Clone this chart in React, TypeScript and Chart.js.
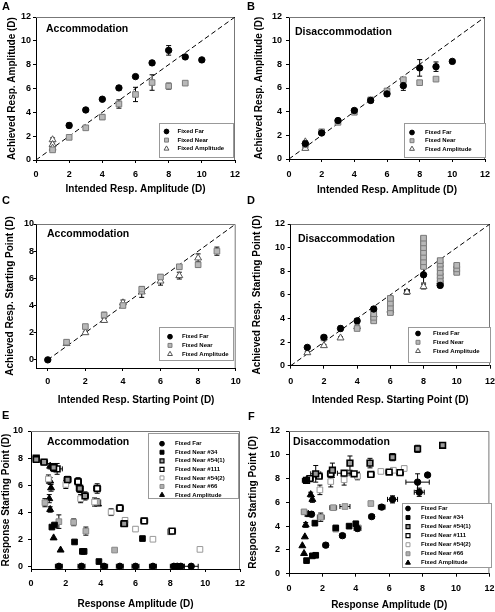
import React, { useEffect, useRef } from 'react';
import { Chart, registerables } from 'chart.js';
Chart.register(...registerables);

const FONT = "'Liberation Sans', Arial, Helvetica, sans-serif";
const W = 495;
const H = 612;

// ---------- data: [x, y, xErr, yErr] ----------
const A_FAR = [[2, 2.9, 0, 0.2], [3, 4.2, 0, 0.15], [4, 5.1, 0, 0.1], [5, 6.05, 0, 0.15], [6, 7.0, 0, 0.15], [7, 8.15, 0, 0.15], [8, 9.2, 0, 0.4], [9, 8.65, 0, 0.1], [10, 8.4, 0, 0]];
const A_NEAR = [[1, 0.85, 0, 0.15], [2, 1.9, 0, 0], [3, 2.7, 0, 0.15], [4, 3.6, 0, 0.2], [5, 4.7, 0, 0.35], [6, 5.5, 0, 0.6], [7, 6.5, 0, 0.65], [8, 6.2, 0, 0.25], [9, 6.45, 0, 0]];
const A_AMP = [[1, 1.7, 0, 0.15], [1, 1.3, 0, 0.1], [1, 1.0, 0, 0.1]];

const B_FAR = [[1, 1.3, 0, 0.1], [2, 2.2, 0, 0.1], [3, 3.25, 0, 0.1], [4, 4.1, 0, 0.1], [5, 4.95, 0, 0.1], [6, 5.5, 0, 0.2], [7, 6.2, 0, 0.4], [8, 7.7, 0, 0.7], [9, 7.8, 0, 0.4], [10, 8.25, 0, 0]];
const B_NEAR = [[1, 1.2, 0, 0.2], [2, 2.3, 0, 0.1], [3, 3.1, 0, 0.1], [4, 3.95, 0, 0.1], [5, 5.0, 0, 0.1], [6, 5.75, 0, 0.15], [7, 6.7, 0, 0.1], [8, 6.45, 0, 0], [9, 6.75, 0, 0]];
const B_AMP = [[1, 1.45, 0, 0.1], [1, 0.9, 0, 0.1]];

const C_FAR = [[0, 0, 0, 0]];
const C_NEAR = [[1, 1.3, 0, 0.15], [2, 2.45, 0, 0.15], [3, 3.3, 0, 0.2], [4, 4.0, 0, 0.15], [5, 5.2, 0, 0.2], [6, 6.1, 0, 0.15], [7, 6.85, 0, 0.15], [8, 7.0, 0, 0.2], [9, 8.0, 0, 0.3]];
const C_AMP = [[1, 1.2, 0, 0.1], [2, 2.0, 0, 0.1], [3, 2.9, 0, 0.15], [4, 4.2, 0, 0.2], [5, 5.0, 0, 0.4], [6, 5.8, 0, 0.3], [7, 6.2, 0, 0.25], [8, 7.5, 0, 0.3]];

const D_FAR = [[1, 1.55, 0, 0.1], [2, 2.4, 0, 0.15], [3, 3.15, 0, 0.2], [4, 3.8, 0, 0.2], [5, 4.8, 0, 0.2], [8, 7.7, 0, 0.7], [9, 6.8, 0, 0.15]];
const D_NEAR = [[2, 2.35, 0, 0.1], [4, 3.15, 0, 0.15], [5, 3.8, 0.15, 0.15], [5, 4.1, 0.15, 0.15], [5, 4.4, 0.15, 0.15], [6, 4.5, 0.15, 0.15], [6, 4.9, 0.15, 0.15], [6, 5.3, 0.15, 0.15], [6, 5.7, 0.15, 0.15], [8, 8.4, 0.15, 0.15], [8, 8.8, 0.15, 0.15], [8, 9.2, 0.15, 0.15], [8, 9.6, 0.15, 0.15], [8, 10.0, 0.15, 0.15], [8, 10.4, 0.15, 0.15], [8, 10.8, 0.15, 0.15], [9, 7.0, 0.15, 0.15], [9, 7.3, 0.15, 0.15], [9, 7.6, 0.15, 0.15], [9, 7.9, 0.15, 0.15], [9, 8.3, 0.15, 0.15], [9, 8.6, 0.15, 0.15], [9, 8.9, 0.15, 0.15], [10, 7.9, 0.15, 0.15], [10, 8.2, 0.15, 0.15], [10, 8.5, 0.15, 0.15]];
const D_AMP = [[1, 1.1, 0, 0.1], [2, 1.7, 0, 0.1], [3, 2.35, 0, 0.1], [4, 3.3, 0, 0.15], [5, 4.3, 0, 0.15], [6, 4.7, 0, 0.2], [7, 6.25, 0.15, 0.2], [8, 6.7, 0, 0.2], [9, 7.1, 0, 0.2]];

const E_FAR = [[1.6, 0, 0.2, 0], [2.9, 0, 0.2, 0], [4.2, 0, 0.2, 0], [5.1, 0, 0.2, 0], [6.0, 0, 0.2, 0], [7.0, 0, 0.2, 0], [8.2, 0, 0.2, 0], [8.4, 0, 0.2, 0], [8.6, 0, 0.2, 0], [9.2, 0, 0.4, 0]];
const E_N34 = [[1.2, 2.9, 0, 0], [1.35, 3.05, 0, 0], [2.5, 1.8, 0, 0], [2.95, 1.1, 0, 0], [3.05, 1.1, 0, 0], [3.9, 0.35, 0, 0], [6.4, 2.05, 0, 0]];
const E_N54A = [[0.3, 7.9, 0, 0.15], [0.75, 7.7, 0.2, 0.2], [1.3, 7.3, 0.2, 0.3], [2.1, 6.4, 0.2, 0.25], [2.8, 5.75, 0.2, 0.3], [3.1, 5.2, 0.2, 0.3], [5.35, 3.15, 0.2, 0.15]];
const E_N111 = [[0.3, 8.0, 0, 0.1], [1.5, 7.2, 0.3, 0.4], [2.7, 6.25, 0.2, 0.3], [3.8, 5.75, 0.2, 0.35], [5.1, 4.3, 0.2, 0.25], [6.5, 3.35, 0.2, 0.2], [8.1, 2.6, 0.2, 0.1]];
const E_N54B = [[1.0, 6.45, 0, 0.3], [2.0, 6.05, 0, 0.3], [2.85, 5.0, 0, 0.3], [3.65, 4.75, 0, 0.3], [4.6, 4.0, 0, 0.25], [5.4, 3.4, 0, 0.2], [6.0, 2.75, 0, 0.15], [7.0, 2.0, 0, 0], [9.7, 1.25, 0, 0]];
const E_N66 = [[0.8, 4.7, 0, 0.3], [1.6, 3.3, 0, 0.5], [2.45, 3.25, 0, 0.25], [3.15, 2.6, 0, 0.3], [3.8, 4.75, 0.2, 0.25], [4.8, 1.2, 0, 0], [8.0, 2.55, 0, 0.1]];
const E_AMP = [[1.1, 7.4, 0, 0.2], [1.1, 6.3, 0, 0.25], [1.15, 5.8, 0, 0.25], [1.05, 5.0, 0, 0.3], [1.1, 4.2, 0, 0.2], [1.3, 2.1, 0, 0], [1.7, 1.2, 0, 0], [3.85, 4.6, 0, 0], [5.35, 3.1, 0, 0]];

const F_FAR = [[1.0, 7.85, 0.2, 0.15], [1.35, 5.0, 0, 0.2], [2.2, 2.4, 0.15, 0], [3.2, 3.2, 0.15, 0.15], [4.1, 3.8, 0.2, 0.2], [4.95, 4.8, 0.15, 0.15], [5.55, 5.6, 0.2, 0.2], [6.2, 6.25, 0.3, 0.3], [7.7, 7.7, 0.7, 0.7], [7.8, 6.85, 0.3, 0.35], [8.3, 8.3, 0, 0]];
const F_N34 = [[1.05, 1.1, 0, 0], [1.4, 1.5, 0, 0], [1.6, 1.55, 0, 0], [1.55, 4.25, 0, 0], [2.8, 3.85, 0, 0.15], [3.6, 4.0, 0, 0.15], [4.0, 4.2, 0, 0.1]];
const F_N54A = [[1.05, 7.85, 0.15, 0.2], [1.6, 8.4, 0.3, 0.7], [2.6, 8.7, 0, 0.6], [3.65, 9.3, 0, 0.6], [4.85, 9.3, 0, 0.4], [6.2, 9.8, 0, 0.3], [7.7, 10.5, 0, 0.3], [9.2, 10.8, 0, 0]];
const F_N111 = [[1.25, 8.0, 0.2, 0.2], [1.8, 8.2, 0.2, 0.2], [2.5, 8.4, 0.2, 0.3], [3.3, 8.45, 0.4, 0.2], [3.9, 8.4, 0.3, 0.2], [4.9, 8.35, 0.2, 0.2], [6.0, 8.55, 0.2, 0.2], [6.65, 8.5, 0.2, 0.2]];
const F_N54B = [[1.85, 7.05, 0, 0.4], [2.5, 7.75, 0, 0.45], [3.3, 7.9, 0, 0.45], [4.1, 8.2, 0, 0.3], [5.5, 8.6, 0, 0], [6.25, 8.7, 0, 0], [6.9, 8.85, 0, 0.2]];
const F_N66 = [[0.9, 5.2, 0.15, 0.2], [1.9, 4.75, 0.2, 0.35], [2.65, 5.55, 0.2, 0], [3.35, 5.65, 0.3, 0], [4.15, 3.85, 0, 0.2], [2.8, 3.75, 0, 0], [4.9, 5.9, 0, 0]];
const F_AMP = [[0.8, 2.35, 0, 0], [0.9, 1.7, 0, 0], [0.95, 3.1, 0, 0], [1.0, 4.1, 0, 0.2], [1.3, 6.65, 0, 0.2], [1.4, 6.25, 0, 0.25], [1.15, 5.0, 0, 0.2]];

const TICKS_12 = [0, 2, 4, 6, 8, 10, 12];
const TICKS_10 = [0, 2, 4, 6, 8, 10];
const DIAG_12 = [0, 12];
const DIAG_10 = [0, 10];

const LABELS3 = ['Fixed Far', 'Fixed Near', 'Fixed Amplitude'];
const LABELS7 = ['Fixed Far', 'Fixed Near #34', 'Fixed Near #54(1)', 'Fixed Near #111', 'Fixed Near #54(2)', 'Fixed Near #66', 'Fixed Amplitude'];

// ---------- styles ----------
type Sty = { ps: string; r: number; bg: string; bc: string; bw: number };
const STY: Record<string, Sty> = {
  far: { ps: 'circle', r: 3.2, bg: '#000', bc: '#000', bw: 1 },
  near: { ps: 'rect', r: 4.0, bg: '#b8b8b8', bc: '#7c7c7c', bw: 1 },
  amp: { ps: 'triangle', r: 4.0, bg: '#fff', bc: '#555', bw: 1 },
  n34: { ps: 'rect', r: 4.0, bg: '#000', bc: '#000', bw: 1 },
  n54a: { ps: 'rect', r: 4.0, bg: '#9a9a9a', bc: '#000', bw: 1.6 },
  n111: { ps: 'rect', r: 4.0, bg: '#fff', bc: '#000', bw: 1.6 },
  n54b: { ps: 'rect', r: 4.0, bg: '#fff', bc: '#999', bw: 1 },
  n66: { ps: 'rect', r: 4.0, bg: '#b0b0b0', bc: '#888', bw: 1 },
  ampB: { ps: 'triangle', r: 4.0, bg: '#000', bc: '#000', bw: 1 },
};

const PANELS: any[] = [
  {
    letter: 'A', lp: [2, 7], inner: 'Accommodation', ip: [46, 29],
    xTitle: 'Intended Resp. Amplitude (D)', yTitle: 'Achieved Resp. Amplitude (D)',
    L: 36, R: 235, T: 17, B: 160, xr: [0, 12], yr: [0, 12], xt: TICKS_12, yt: TICKS_12,
    yTickRight: 31, xTickY: 175, yTitleX: 12, xTitleY: 189, diag: DIAG_12,
    series: [['far', A_FAR], ['near', A_NEAR], ['amp', A_AMP]], labels: LABELS3,
    legend: { x: 159, y: 123, w: 74, h: 34, top: 131.5, step: 8.6, mx: 166.5, tx: 177.5 },
  },
  {
    letter: 'B', lp: [247, 7], inner: 'Disaccommodation', ip: [295, 32],
    xTitle: 'Intended Resp. Amplitude (D)', yTitle: 'Achieved Resp. Amplitude (D)',
    L: 289, R: 485, T: 17, B: 159, xr: [0, 12], yr: [0, 12], xt: TICKS_12, yt: TICKS_12,
    yTickRight: 282, xTickY: 175, yTitleX: 259, xTitleY: 190, diag: DIAG_12,
    series: [['far', B_FAR], ['near', B_NEAR], ['amp', B_AMP]], labels: LABELS3,
    legend: { x: 404, y: 123, w: 81, h: 34, top: 132.5, step: 8.2, mx: 412, tx: 425 },
  },
  {
    letter: 'C', lp: [2, 201], inner: 'Accommodation', ip: [47, 234],
    xTitle: 'Intended Resp. Starting Point (D)', yTitle: 'Achieved Resp. Starting Point (D)',
    L: 36.5, R: 235.7, T: 224, B: 368, xr: [-0.6, 10], yr: [-0.6, 10], xt: TICKS_10, yt: TICKS_10,
    yTickRight: 34, xTickY: 382, yTitleX: 10, xTitleY: 400, diag: DIAG_10,
    series: [['far', C_FAR], ['near', C_NEAR], ['amp', C_AMP]], labels: LABELS3,
    legend: { x: 159, y: 327, w: 74, h: 33, top: 336.7, step: 8.7, mx: 170, tx: 182 },
  },
  {
    letter: 'D', lp: [247, 201], inner: 'Disaccommodation', ip: [298, 239],
    xTitle: 'Intended Resp. Starting Point (D)', yTitle: 'Achieved Resp. Starting Point (D)',
    L: 290.7, R: 490, T: 224, B: 365.7, xr: [0, 12], yr: [0, 12], xt: TICKS_12, yt: TICKS_12,
    yTickRight: 285, xTickY: 382, yTitleX: 257, xTitleY: 400, diag: DIAG_12,
    series: [['far', D_FAR], ['near', D_NEAR], ['amp', D_AMP]], labels: LABELS3,
    legend: { x: 408, y: 327, w: 82, h: 35, top: 333.5, step: 8.8, mx: 418, tx: 433 },
  },
  {
    letter: 'E', lp: [2, 416], inner: 'Accommodation', ip: [47, 442],
    xTitle: 'Response Amplitude (D)', yTitle: 'Response Starting Point (D)',
    L: 31, R: 240, T: 431, B: 569, xr: [0, 12], yr: [-0.2, 10], xt: TICKS_12, yt: TICKS_10,
    yTickRight: 23, xTickY: 584, yTitleX: 6, xTitleY: 604, diag: null,
    series: [['far', E_FAR], ['n34', E_N34], ['n54a', E_N54A], ['n111', E_N111], ['n54b', E_N54B], ['n66', E_N66], ['ampB', E_AMP]], labels: LABELS7,
    legend: { x: 148, y: 433, w: 90, h: 65, top: 443.7, step: 8.55, mx: 162, tx: 175 },
  },
  {
    letter: 'F', lp: [248, 417], inner: 'Disaccommodation', ip: [293, 442],
    xTitle: 'Response Amplitude (D)', yTitle: 'Response Starting Point (D)',
    L: 289, R: 493, T: 431, B: 573.7, xr: [0, 12], yr: [0, 12], xt: TICKS_12, yt: TICKS_12,
    yTickRight: 280, xTickY: 589, yTitleX: 253, xTitleY: 605, diag: null,
    series: [['far', F_FAR], ['n34', F_N34], ['n54a', F_N54A], ['n111', F_N111], ['n54b', F_N54B], ['n66', F_N66], ['ampB', F_AMP]], labels: LABELS7,
    legend: { x: 402, y: 503, w: 89, h: 64, top: 508.5, step: 9.05, mx: 408, tx: 421 },
  },
];

function drawMarker(ctx: CanvasRenderingContext2D, st: Sty, x: number, y: number, r: number) {
  ctx.save();
  ctx.fillStyle = st.bg;
  ctx.strokeStyle = st.bc;
  ctx.lineWidth = Math.min(st.bw, 1.2);
  ctx.beginPath();
  if (st.ps === 'circle') {
    ctx.arc(x, y, r * 0.85, 0, Math.PI * 2);
  } else if (st.ps === 'rect') {
    const h = r * Math.SQRT1_2;
    ctx.rect(x - h, y - h, 2 * h, 2 * h);
  } else {
    ctx.moveTo(x, y - r);
    ctx.lineTo(x + 0.866 * r, y + 0.5 * r);
    ctx.lineTo(x - 0.866 * r, y + 0.5 * r);
    ctx.closePath();
  }
  ctx.fill();
  ctx.stroke();
  ctx.restore();
}

const decoPlugin = {
  id: 'deco',
  beforeDatasetsDraw(chart: any) {
    const { ctx, chartArea: a } = chart;
    ctx.save();
    // frame top/right
    ctx.strokeStyle = '#777';
    ctx.lineWidth = 1;
    ctx.beginPath();
    ctx.moveTo(a.left, a.top + 0.5);
    ctx.lineTo(a.right - 0.5, a.top + 0.5);
    ctx.lineTo(a.right - 0.5, a.bottom);
    ctx.stroke();
    // error bars
    const xs = chart.scales.x;
    const ys = chart.scales.y;
    ctx.strokeStyle = '#000';
    ctx.lineWidth = 1;
    const cap = 2.5;
    chart.data.datasets.forEach((ds: any) => {
      if (!ds.errorBars) return;
      ds.data.forEach((pt: any) => {
        const px = xs.getPixelForValue(pt.x);
        const py = ys.getPixelForValue(pt.y);
        ctx.beginPath();
        if (pt.ye) {
          const y1 = ys.getPixelForValue(pt.y + pt.ye);
          const y2 = ys.getPixelForValue(pt.y - pt.ye);
          ctx.moveTo(px, y1); ctx.lineTo(px, y2);
          ctx.moveTo(px - cap, y1); ctx.lineTo(px + cap, y1);
          ctx.moveTo(px - cap, y2); ctx.lineTo(px + cap, y2);
        }
        if (pt.xe) {
          const x1 = xs.getPixelForValue(pt.x - pt.xe);
          const x2 = xs.getPixelForValue(pt.x + pt.xe);
          ctx.moveTo(x1, py); ctx.lineTo(x2, py);
          ctx.moveTo(x1, py - cap); ctx.lineTo(x1, py + cap);
          ctx.moveTo(x2, py - cap); ctx.lineTo(x2, py + cap);
        }
        ctx.stroke();
      });
    });
    ctx.restore();
  },
  afterDraw(chart: any) {
    const p = chart.options.plugins.deco.panel;
    const { ctx } = chart;
    ctx.save();
    ctx.fillStyle = '#000';
    ctx.textBaseline = 'middle';
    ctx.textAlign = 'left';
    ctx.font = `bold 11px ${FONT}`;
    ctx.fillText(p.letter, p.lp[0], p.lp[1]);
    ctx.font = `bold 10.5px ${FONT}`;
    ctx.fillText(p.inner, p.ip[0], p.ip[1]);
    // legend
    const lg = p.legend;
    ctx.fillStyle = '#fff';
    ctx.fillRect(lg.x, lg.y, lg.w, lg.h);
    ctx.strokeStyle = '#999';
    ctx.lineWidth = 1;
    ctx.strokeRect(lg.x + 0.5, lg.y + 0.5, lg.w, lg.h);
    ctx.font = `bold 6px ${FONT}`;
    p.series.forEach((s: any, i: number) => {
      const y = lg.top + i * lg.step;
      drawMarker(ctx, STY[s[0]], lg.mx, y, 2.8);
      ctx.fillStyle = '#000';
      ctx.fillText(p.labels[i], lg.tx, y);
    });
    ctx.restore();
  },
};

const toPts = (rows: number[][]) => rows.map(([x, y, xe, ye]) => ({ x, y, xe, ye }));

function buildConfig(p: any): any {
  const tl = 3;
  const tickFont = { family: FONT, size: 9, weight: 'bold' };
  const titleFont = { family: FONT, size: 10, weight: 'bold' };
  const tickLH = 9 * 1.2;
  const titleLH = 10 * 1.2;
  const datasets: any[] = p.series.map((s: any, i: number) => {
    const st = STY[s[0]];
    return {
      label: p.labels[i],
      data: toPts(s[1]),
      pointStyle: st.ps,
      pointRadius: st.r,
      pointBackgroundColor: st.bg,
      pointBorderColor: st.bc,
      pointBorderWidth: st.bw,
      showLine: false,
      clip: false,
      errorBars: true,
      order: i,
    };
  });
  if (p.diag) {
    datasets.push({
      type: 'line',
      label: 'identity',
      data: [{ x: p.diag[0], y: p.diag[0] }, { x: p.diag[1], y: p.diag[1] }],
      borderColor: '#000',
      borderWidth: 1,
      borderDash: [5, 3],
      pointRadius: 0,
      fill: false,
      showLine: true,
      order: 50,
    });
  }
  return {
    type: 'scatter',
    data: { datasets },
    plugins: [decoPlugin],
    options: {
      responsive: false,
      animation: false,
      devicePixelRatio: 1,
      events: [],
      layout: { padding: { left: 0, top: p.T, right: W - p.R, bottom: 0 } },
      plugins: {
        legend: { display: false },
        tooltip: { enabled: false },
        deco: { panel: p },
      },
      scales: {
        x: {
          type: 'linear', position: 'bottom', min: p.xr[0], max: p.xr[1],
          afterBuildTicks: (s: any) => { s.ticks = p.xt.map((v: number) => ({ value: v })); },
          afterFit: (s: any) => { s.height = H - p.B; s.paddingLeft = 0; s.paddingRight = 0; },
          ticks: { font: tickFont, color: '#000', padding: p.xTickY - p.B - tl - tickLH / 2, maxRotation: 0, autoSkip: false, callback: (v: any) => String(v) },
          grid: { display: true, drawOnChartArea: false, drawTicks: true, tickLength: tl, color: '#000' },
          border: { display: true, color: '#000', width: 1 },
          title: { display: true, text: p.xTitle, font: titleFont, color: '#000', padding: { top: 0, bottom: H - p.xTitleY - titleLH / 2 } },
        },
        y: {
          type: 'linear', position: 'left', min: p.yr[0], max: p.yr[1],
          afterBuildTicks: (s: any) => { s.ticks = p.yt.map((v: number) => ({ value: v })); },
          afterFit: (s: any) => { s.width = p.L; s.paddingTop = 0; s.paddingBottom = 0; },
          ticks: { font: tickFont, color: '#000', padding: p.L - tl - p.yTickRight, autoSkip: false, callback: (v: any) => String(v) },
          grid: { display: true, drawOnChartArea: false, drawTicks: true, tickLength: tl, color: '#000' },
          border: { display: true, color: '#000', width: 1 },
          title: { display: true, text: p.yTitle, font: titleFont, color: '#000', padding: { top: p.yTitleX - titleLH / 2, bottom: 0 } },
        },
      },
    },
  };
}

export default function App() {
  const refs = useRef<(HTMLCanvasElement | null)[]>([]);
  useEffect(() => {
    const charts = PANELS.map((p, i) => new Chart(refs.current[i] as HTMLCanvasElement, buildConfig(p)));
    return () => charts.forEach((c) => c.destroy());
  }, []);
  return (
    <div style={{ position: 'fixed', left: 0, top: 0, width: W, height: H, overflow: 'hidden', background: '#fff' }}>
      {PANELS.map((p, i) => (
        <canvas
          key={i}
          ref={(el) => { refs.current[i] = el; }}
          width={W}
          height={H}
          style={{ position: 'absolute', left: 0, top: 0, width: W, height: H }}
        />
      ))}
    </div>
  );
}
